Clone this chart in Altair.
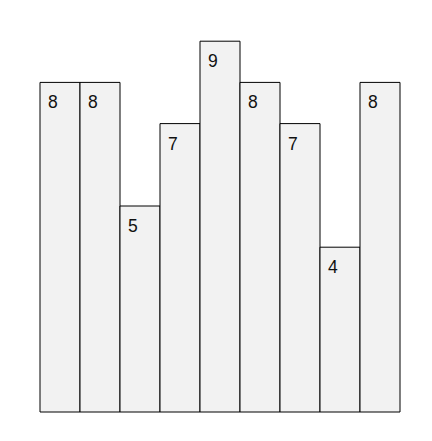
import altair as alt
import pandas as pd

categories = ["A", "B", "C", "D", "E", "F", "G", "H", "I"]
values = [8, 8, 5, 7, 9, 8, 7, 4, 8]

df = pd.DataFrame({"cat": categories, "value": values})

x = alt.X("cat:N", sort=None, axis=None,
          scale=alt.Scale(paddingInner=0, paddingOuter=0))
y = alt.Y("value:Q", axis=None, scale=alt.Scale(domain=[0, 10], nice=False))

bars = alt.Chart(df).mark_bar(fill="#f2f2f2", stroke="black", strokeWidth=1).encode(x=x, y=y)

labels = alt.Chart(df).mark_text(
    align="left", baseline="alphabetic", dx=8, dy=26,
    font="Liberation Sans", fontSize=17.5, color="#111111"
).encode(
    x=alt.X("cat:N", sort=None, axis=None, bandPosition=0,
            scale=alt.Scale(paddingInner=0, paddingOuter=0)),
    y=y, text="value:Q")

chart = alt.layer(bars, labels).properties(
    width=360, height=412,
    autosize=alt.AutoSizeParams(type="none"),
    padding={"left": 40, "top": 0, "right": 32, "bottom": 29},
).configure_view(stroke=None)

chart.save("out.html", embed_options={"renderer": "svg", "actions": False})
